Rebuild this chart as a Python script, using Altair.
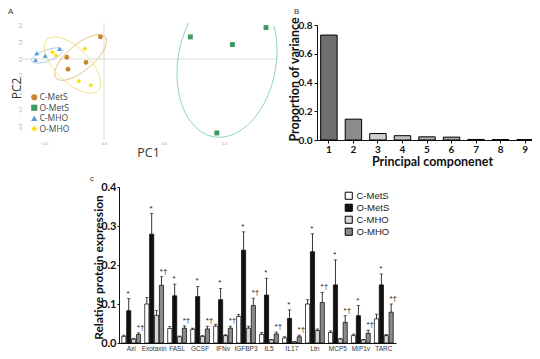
import math
import altair as alt
import pandas as pd

# ---------------- Panel A : PCA scores ----------------
A_GROUPS = ["C-MetS", "O-MetS", "C-MHO", "O-MHO"]
a_group = ["C-MetS"] * 4 + ["O-MetS"] * 4 + ["C-MHO"] * 4 + ["O-MHO"] * 5
a_pc1 = [-0.03, -0.31, -0.15, -0.30,
         0.72, 1.07, 1.35, 0.94,
         -0.56, -0.49, -0.37, -0.57,
         -0.43, -0.40, -0.16, -0.21, -0.11]
a_pc2 = [0.26, 0.02, -0.04, -0.12,
         0.26, 0.17, 0.37, -0.87,
         0.07, 0.04, 0.12, -0.01,
         0.08, 0.04, 0.12, -0.26, -0.31]
# confidence ellipses: centre (PC1, PC2), semi-axes (px), rotation (deg)
ell_group = ["C-MetS", "O-MetS", "C-MHO", "O-MHO"]
ell_cx = [-0.195, 1.025, -0.473, -0.263]
ell_cy = [0.018, -0.035, 0.041, -0.071]
ell_a = [32, 76, 16.5, 36]
ell_b = [13, 49, 5.5, 17]
ell_ang = [40, 80, 20, -45]

# ---------------- Panel B : scree ----------------
b_comp = ["1", "2", "3", "4", "5", "6", "7", "8", "9"]
b_prop = [0.73, 0.145, 0.045, 0.03, 0.022, 0.02, 0.004, 0.003, 0.003]

# ---------------- Panel C : protein expression ----------------
c_cats = ["Axl", "Exotaxin", "FASL", "GCSF", "IFNγ", "IGFBP3", "IL5", "IL17",
          "Ltn", "MCP5", "MIP1γ", "TARC"]
c_series = ["C-MetS", "O-MetS", "C-MHO", "O-MHO"]
c_mets = [0.017, 0.100, 0.037, 0.035, 0.043, 0.068, 0.022, 0.013, 0.100, 0.027, 0.019, 0.062]
c_mets_err = [0.003, 0.017, 0.005, 0.003, 0.005, 0.005, 0.005, 0.003, 0.011, 0.004, 0.004, 0.012]
o_mets = [0.083, 0.279, 0.121, 0.119, 0.111, 0.238, 0.123, 0.063, 0.234, 0.149, 0.070, 0.149]
o_mets_err = [0.031, 0.053, 0.030, 0.026, 0.029, 0.047, 0.043, 0.022, 0.046, 0.064, 0.026, 0.028]
c_mho = [0.010, 0.071, 0.016, 0.017, 0.019, 0.038, 0.008, 0.003, 0.032, 0.010, 0.008, 0.019]
c_mho_err = [0.002, 0.012, 0.002, 0.002, 0.002, 0.005, 0.001, 0.001, 0.004, 0.002, 0.001, 0.003]
o_mho = [0.022, 0.148, 0.038, 0.036, 0.038, 0.096, 0.023, 0.016, 0.104, 0.053, 0.025, 0.079]
o_mho_err = [0.004, 0.022, 0.006, 0.007, 0.005, 0.019, 0.005, 0.004, 0.026, 0.017, 0.008, 0.021]
ann_o_mets = ["*"] * 12
ann_o_mho = ["*†"] * 12

# ================= layout =================
W, H = 524, 343

# ---- Panel A ----
A_XDOM, A_XRANGE = [-0.7, 1.45], [12, 270]
A_YDOM, A_YRANGE = [-0.9, 0.45], [127.5, 12.75]
px_x = (A_XRANGE[1] - A_XRANGE[0]) / (A_XDOM[1] - A_XDOM[0])
px_y = (A_YRANGE[0] - A_YRANGE[1]) / (A_YDOM[1] - A_YDOM[0])


def xa():
    return alt.Scale(domain=A_XDOM, range=A_XRANGE, nice=False, zero=False)


def ya():
    return alt.Scale(domain=A_YDOM, range=A_YRANGE, nice=False, zero=False)


dfA = pd.DataFrame({"group": a_group, "pc1": a_pc1, "pc2": a_pc2})

ell_rows = []
for g, cx, cy, ea, eb, ang in zip(ell_group, ell_cx, ell_cy, ell_a, ell_b, ell_ang):
    th = math.radians(ang)
    pts = []
    for k in range(72):
        t = 2 * math.pi * k / 72
        dx = ea * math.cos(t) * math.cos(th) - eb * math.sin(t) * math.sin(th)
        dy = ea * math.cos(t) * math.sin(th) + eb * math.sin(t) * math.cos(th)
        pts.append((cx + dx / px_x, cy + dy / px_y))
    top = max(range(len(pts)), key=lambda i: pts[i][1])
    ring = pts[top:] + pts[:top] + [pts[top]]
    ring = [p for p in ring if p[1] <= A_YDOM[1]]
    for i, (x, y) in enumerate(ring):
        ell_rows.append({"group": g, "x": x, "y": y, "i": i})
dfE = pd.DataFrame(ell_rows)

marker_colors = ["#C8862E", "#3E9A62", "#5B9BD5", "#F7E11E"]
ellipse_colors = ["#E6C27E", "#8FD3C3", "#A9C9EA", "#EDE47E"]

a_hline = alt.Chart(pd.DataFrame({"x1": [-0.68], "x2": [1.45], "y": [0.0]})).mark_rule(
    color="#dddddd", strokeWidth=1).encode(
    x=alt.X("x1:Q", scale=xa(), axis=None), x2="x2:Q",
    y=alt.Y("y:Q", scale=ya(), axis=None))
a_vline = alt.Chart(pd.DataFrame({"x": [0.0], "y1": [-0.95], "y2": [0.43]})).mark_rule(
    color="#dddddd", strokeWidth=1).encode(
    x=alt.X("x:Q", scale=xa(), axis=None),
    y=alt.Y("y1:Q", scale=ya(), axis=None), y2="y2:Q")
a_ell = alt.Chart(dfE).mark_line(strokeWidth=1).encode(
    x=alt.X("x:Q", scale=xa(), axis=None),
    y=alt.Y("y:Q", scale=ya(), axis=None),
    stroke=alt.Stroke("group:N", scale=alt.Scale(domain=A_GROUPS, range=ellipse_colors), legend=None),
    order="i:Q")

legA = alt.Legend(orient="none", legendX=22, legendY=85, title=None, padding=0,
                  labelFontSize=8.5, labelFont="Open Sans", labelColor="#444",
                  symbolSize=38, labelOffset=1, rowPadding=1.5)
a_pts = alt.Chart(dfA).mark_point(filled=True, size=24, opacity=1).encode(
    x=alt.X("pc1:Q", scale=xa(), axis=alt.Axis(
        orient="bottom", offset=129 - H, values=[-0.5, 0.0, 0.5, 1.0], format=".1f",
        labelFontSize=4, labelColor="#999", labelPadding=4, domain=False, ticks=False, grid=False,
        title="PC1", titleFontSize=12.5, titleFontWeight="normal", titleColor="#333",
        titleFont="Open Sans", titleX=140, titleY=15, titleBaseline="middle")),
    y=alt.Y("pc2:Q", scale=ya(), axis=alt.Axis(
        orient="left", offset=-16, values=[-0.8, -0.6, -0.4, -0.2, 0.0, 0.2, 0.4], format=".1f",
        labelFontSize=4, labelColor="#999", labelPadding=2, labelAngle=270, domain=False,
        ticks=False, grid=False, title="PC2", titleFontSize=12, titleFontWeight="normal",
        titleColor="#333", titleFont="Open Sans", titleX=-8, titleY=80, titleBaseline="middle")),
    color=alt.Color("group:N", scale=alt.Scale(domain=A_GROUPS, range=marker_colors), legend=legA),
    shape=alt.Shape("group:N", scale=alt.Scale(domain=A_GROUPS,
                    range=["circle", "square", "triangle-up", "diamond"]), legend=legA))

# ---- Panel B ----
b_fills = ["#6f6f6f", "#8c8c8c", "#cfcfcf", "#c2c2c2", "#b0b0b0", "#a8a8a8", "#bdbdbd", "#bdbdbd", "#bdbdbd"]
xb = alt.Scale(domain=b_comp, range=[309, 529], paddingInner=0.33, paddingOuter=0.15)
yb = alt.Scale(domain=[0, 0.8], range=[132, 17], nice=False, zero=True)
dfB = pd.DataFrame({"comp": b_comp, "prop": b_prop})
b_bars = alt.Chart(dfB).mark_bar(stroke="black", strokeWidth=1).encode(
    x=alt.X("comp:N", sort=b_comp, scale=xb, axis=alt.Axis(
        orient="bottom", offset=132 - H, labelAngle=0, labelFont="Lato", labelFontSize=10,
        labelFontWeight="bold", labelColor="#111", labelPadding=1, tickSize=3, tickColor="#111",
        domainColor="#111", title="Principal componenet", titleFont="Lato", titleFontSize=12.5,
        titleFontWeight="bold", titleColor="#111", titleX=424, titleY=21, titleBaseline="middle")),
    y=alt.Y("prop:Q", scale=yb, axis=alt.Axis(
        orient="left", offset=-309, values=[0, 0.2, 0.4, 0.6, 0.8], format=".1f",
        labelFont="Lato", labelFontSize=10, labelFontWeight="bold", labelColor="#111",
        labelPadding=2, tickSize=3, tickColor="#111", domainColor="#111", grid=False,
        title="Proportion of variance", titleFont="Lato", titleFontSize=12.5,
        titleFontWeight="bold", titleColor="#111", titleX=-23, titleY=71, titleBaseline="middle")),
    fill=alt.Fill("comp:N", scale=alt.Scale(domain=b_comp, range=b_fills), legend=None))

# ---- Panel C ----
rows = []
for i, cat in enumerate(c_cats):
    for s, vals, errs in zip(c_series, [c_mets, o_mets, c_mho, o_mho],
                             [c_mets_err, o_mets_err, c_mho_err, o_mho_err]):
        rows.append({"cat": cat, "series": s, "val": vals[i], "top": vals[i] + errs[i]})
dfC = pd.DataFrame(rows)
ann_rows = []
for i, cat in enumerate(c_cats):
    ann_rows.append({"cat": cat, "series": "O-MetS", "top": o_mets[i] + o_mets_err[i], "lab": ann_o_mets[i]})
    ann_rows.append({"cat": cat, "series": "O-MHO", "top": o_mho[i] + o_mho_err[i], "lab": ann_o_mho[i]})
dfAnn = pd.DataFrame(ann_rows)

C_BASE = 335


def xc():
    return alt.Scale(domain=c_cats, range=[111, 388], paddingInner=0.18, paddingOuter=0.12)


def yc():
    return alt.Scale(domain=[0, 0.4], range=[C_BASE, C_BASE - 156], nice=False, zero=True)


def xo():
    return alt.Scale(domain=c_series, paddingInner=0.15, paddingOuter=0)


c_fills = ["#ffffff", "#111111", "#d6d6d6", "#8a8a8a"]

legC = alt.Legend(orient="none", legendX=336, legendY=183, title=None, padding=0,
                  symbolType="square", symbolSize=50, symbolStrokeColor="black",
                  symbolStrokeWidth=1, labelFont="Liberation Sans", labelFontSize=9.5,
                  labelColor="#222", labelOffset=3, rowPadding=0)

c_bars = alt.Chart(dfC).mark_bar(stroke="black", strokeWidth=0.7).encode(
    x=alt.X("cat:N", sort=c_cats, scale=xc(), axis=alt.Axis(
        orient="bottom", offset=C_BASE - H, labelAngle=0, labelFont="Liberation Sans",
        labelFontSize=6.5, labelColor="#333", labelPadding=2, ticks=False, domainColor="#111",
        labelOverlap=False, title=None)),
    xOffset=alt.XOffset("series:N", sort=c_series, scale=xo()),
    y=alt.Y("val:Q", scale=yc(), axis=alt.Axis(
        orient="left", offset=-111, values=[0, 0.1, 0.2, 0.3, 0.4], format=".1f",
        labelFont="Lato", labelFontSize=11, labelFontWeight="bold", labelColor="#111",
        labelPadding=1, tickSize=2, tickColor="#111", domainColor="#111", grid=False,
        title="Relative protein expression", titleFont="Lato", titleFontSize=12,
        titleFontWeight="bold", titleColor="#111", titleX=-21, titleY=259, titleBaseline="middle")),
    fill=alt.Fill("series:N", scale=alt.Scale(domain=c_series, range=c_fills), legend=legC))
c_err = alt.Chart(dfC).mark_rule(color="black", strokeWidth=0.8).encode(
    x=alt.X("cat:N", sort=c_cats, scale=xc(), axis=None),
    xOffset=alt.XOffset("series:N", sort=c_series, scale=xo()),
    y=alt.Y("val:Q", scale=yc(), axis=None), y2="top:Q")
c_cap = alt.Chart(dfC).mark_tick(color="black", thickness=0.8, size=3.5).encode(
    x=alt.X("cat:N", sort=c_cats, scale=xc(), axis=None),
    xOffset=alt.XOffset("series:N", sort=c_series, scale=xo()),
    y=alt.Y("top:Q", scale=yc(), axis=None))
c_ann = alt.Chart(dfAnn).mark_text(fontSize=8, font="Liberation Sans", color="#222",
                                   baseline="bottom", dy=-1).encode(
    x=alt.X("cat:N", sort=c_cats, scale=xc(), axis=None),
    xOffset=alt.XOffset("series:N", sort=c_series, scale=xo()),
    y=alt.Y("top:Q", scale=yc(), axis=None),
    text="lab:N")


# ---- panel letters ----
def letter(t, x, y):
    return alt.Chart(pd.DataFrame({"t": [t]})).mark_text(
        fontSize=8, font="Liberation Sans", color="#333", align="left", baseline="top").encode(
        x=alt.value(x), y=alt.value(y), text="t:N")


chart = alt.layer(
    a_hline, a_vline, a_ell, a_pts,
    b_bars,
    c_bars, c_err, c_cap, c_ann,
    letter("A", 0, 0), letter("B", 286, 0), letter("c", 82, 167),
).resolve_scale(
    x="independent", y="independent", fill="independent", color="independent",
    shape="independent", stroke="independent", xOffset="independent"
).resolve_axis(x="independent", y="independent").resolve_legend(
    color="independent", shape="independent", fill="independent", stroke="independent"
).properties(
    width=W, height=H, autosize=alt.AutoSizeParams(type="none"), padding=0, background="white"
).configure_view(stroke=None)

chart.save("out.html", embed_options={"renderer": "svg", "actions": False})
